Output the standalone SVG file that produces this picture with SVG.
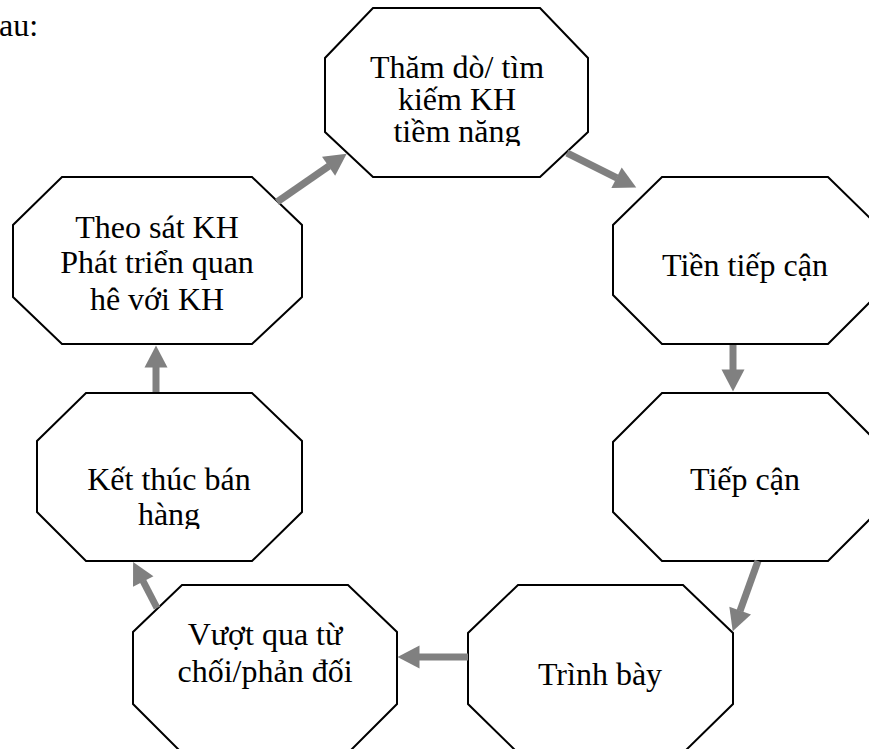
<svg xmlns="http://www.w3.org/2000/svg" width="869" height="749" viewBox="0 0 869 749">
<style>
.oct{fill:#fff;stroke:#000;stroke-width:2}
.t{font-family:"Liberation Serif","Times New Roman",serif;font-size:32px;fill:#000;text-anchor:middle}
.c{stroke:#808080;stroke-width:7;fill:none;marker-end:url(#ah)}
</style>
<defs>
<marker id="ah" markerUnits="userSpaceOnUse" markerWidth="23" markerHeight="24" refX="0.5" refY="11.5" orient="auto" overflow="visible">
<path d="M0,0 L22,11.5 L0,23 Z" fill="#808080"/>
</marker>
<clipPath id="clip1"><rect x="325" y="8" width="263" height="138"/></clipPath>
<clipPath id="clip6"><rect x="37" y="393" width="265" height="136"/></clipPath>
</defs>
<rect width="869" height="749" fill="#fff"/>
<text class="t" x="-1" y="36" style="text-anchor:start">au:</text>
<g id="n1">
<polygon class="oct" points="373,8 540,8 588,58 588,132 540,177 373,177 325,132 325,58"/>
<g clip-path="url(#clip1)">
<text class="t" x="457" y="78">Thăm dò/ tìm</text>
<text class="t" x="457" y="110">kiếm KH</text>
<text class="t" x="457" y="142">tiềm năng</text>
</g>
</g>
<g id="n2">
<polygon class="oct" points="662,177 828,177 877,225 877,295 828,344 662,344 613,295 613,225"/>
<text class="t" x="745" y="276">Tiền tiếp cận</text>
</g>
<g id="n3">
<polygon class="oct" points="662,393 828,393 877,442 877,512 828,561 662,561 613,512 613,442"/>
<text class="t" x="745" y="490">Tiếp cận</text>
</g>
<g id="n4">
<polygon class="oct" points="518,585 683,585 733,633 733,704 683,753 518,753 468,704 468,633"/>
<text class="t" x="600" y="685">Trình bày</text>
</g>
<g id="n5">
<polygon class="oct" points="182,585 348,585 397,632 397,704 348,753 182,753 133,704 133,632"/>
<text class="t" x="265" y="645">Vượt qua từ</text>
<text class="t" x="265" y="682">chối/phản đối</text>
</g>
<g id="n6">
<polygon class="oct" points="86,393 252,393 302,441 302,512 252,561 86,561 37,512 37,441"/>
<g clip-path="url(#clip6)">
<text class="t" x="169" y="490">Kết thúc bán</text>
<text class="t" x="169" y="525">hàng</text>
</g>
</g>
<g id="n7">
<polygon class="oct" points="62,177 252,177 302,225 302,297 252,344 62,344 13,297 13,225"/>
<text class="t" x="157" y="238">Theo sát KH</text>
<text class="t" x="157" y="273">Phát triển quan</text>
<text class="t" x="157" y="310">hê với KH</text>
</g>
<g id="connectors">
<line class="c" x1="277" y1="202" x2="329" y2="166"/>
<line class="c" x1="567" y1="153" x2="617" y2="178"/>
<line class="c" x1="733" y1="345" x2="733" y2="370"/>
<line class="c" x1="758" y1="561" x2="740" y2="611"/>
<line class="c" x1="468" y1="657" x2="419" y2="657"/>
<line class="c" x1="157" y1="608" x2="143" y2="581"/>
<line class="c" x1="156" y1="392" x2="156" y2="367"/>
</g>
</svg>
